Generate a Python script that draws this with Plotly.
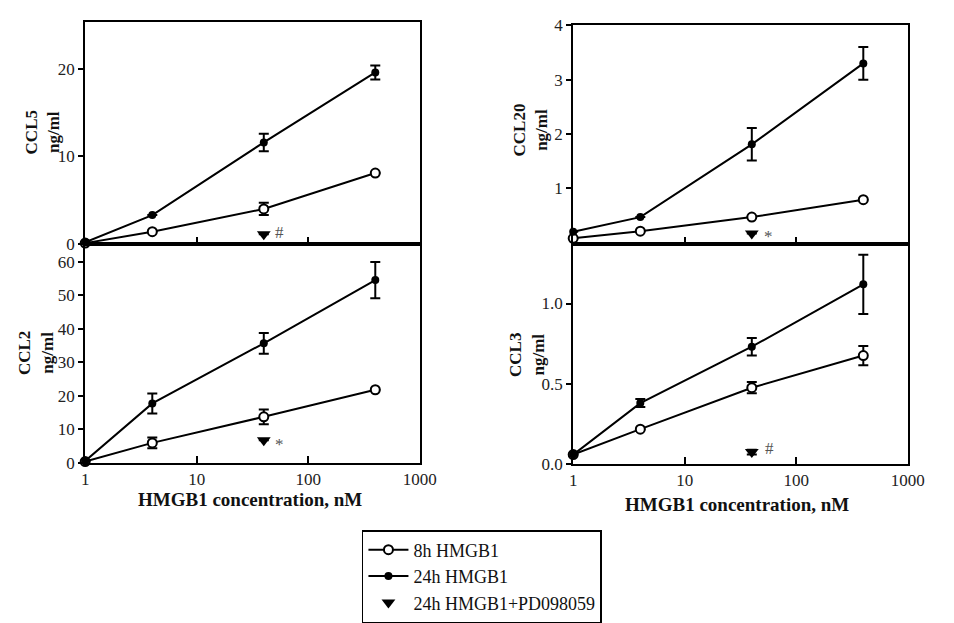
import plotly.graph_objects as go

W, H = 954, 623

conc = [1, 4, 40, 400]
pd_conc = [40]

# CCL5
ccl5_8h = [0.1, 1.4, 4.0, 8.1]
ccl5_8h_err = [None, None, 0.7, None]
ccl5_24h = [0.2, 3.3, 11.6, 19.6]
ccl5_24h_err = [None, None, 1.0, 0.8]
ccl5_pd = [1.1]
ccl5_pd_err = [None]
ccl5_mark = "#"

# CCL20
ccl20_8h = [0.08, 0.21, 0.47, 0.79]
ccl20_8h_err = [None, None, None, None]
ccl20_24h = [0.2, 0.47, 1.81, 3.3]
ccl20_24h_err = [None, None, 0.3, 0.3]
ccl20_pd = [0.17]
ccl20_pd_err = [None]
ccl20_mark = "*"

# CCL2
ccl2_8h = [0.3, 5.9, 13.7, 21.8]
ccl2_8h_err = [None, 1.6, 2.2, None]
ccl2_24h = [0.5, 17.7, 35.7, 54.6]
ccl2_24h_err = [None, 3.0, 3.1, 5.4]
ccl2_pd = [6.7]
ccl2_pd_err = [None]
ccl2_mark = "*"

# CCL3
ccl3_8h = [0.056, 0.215, 0.474, 0.675]
ccl3_8h_err = [None, None, 0.035, 0.06]
ccl3_24h = [0.056, 0.378, 0.73, 1.12]
ccl3_24h_err = [None, 0.025, 0.055, 0.185]
ccl3_pd = [0.072]
ccl3_pd_err = [0.015]
ccl3_mark = "#"

x_tickvals = [1, 10, 100, 1000]
x_ticktext = ["1", "10", "100", "1000"]
ccl5_ticks = [0, 10, 20]
ccl20_ticks = [1, 2, 3, 4]
ccl2_ticks = [0, 10, 20, 30, 40, 50, 60]
ccl3_ticks = [0.0, 0.5, 1.0]

series_names = ["8h HMGB1", "24h HMGB1", "24h HMGB1+PD098059"]
xtitle = "HMGB1 concentration, nM"

FONT = "Liberation Serif, Times New Roman, serif"

def px_x(p):
    return p / W

def px_y(p):
    return 1 - p / H

panels = [
    dict(name="CCL5", ax="", d8=ccl5_8h, e8=ccl5_8h_err, d24=ccl5_24h, e24=ccl5_24h_err,
         pd=ccl5_pd, epd=ccl5_pd_err, mark=ccl5_mark, xd=(83, 425), yd=(244, 14),
         yr=[0, 25.3], yt=ccl5_ticks, fmt="", tx=39, ty=128, bottom=False, mshift=(16, 2)),
    dict(name="CCL20", ax="2", d8=ccl20_8h, e8=ccl20_8h_err, d24=ccl20_24h, e24=ccl20_24h_err,
         pd=ccl20_pd, epd=ccl20_pd_err, mark=ccl20_mark, xd=(582, 924), yd=(244, 17),
         yr=[-0.025, 4], yt=ccl20_ticks, fmt="", tx=538, ty=126, bottom=False, mshift=(17, -3)),
    dict(name="CCL2", ax="3", d8=ccl2_8h, e8=ccl2_8h_err, d24=ccl2_24h, e24=ccl2_24h_err,
         pd=ccl2_pd, epd=ccl2_pd_err, mark=ccl2_mark, xd=(83, 425), yd=(471, 244),
         yr=[0, 65.4], yt=ccl2_ticks, fmt="", tx=33, ty=357, bottom=True, mshift=(16, -4)),
    dict(name="CCL3", ax="4", d8=ccl3_8h, e8=ccl3_8h_err, d24=ccl3_24h, e24=ccl3_24h_err,
         pd=ccl3_pd, epd=ccl3_pd_err, mark=ccl3_mark, xd=(582, 924), yd=(472, 244),
         yr=[0, 1.372], yt=ccl3_ticks, fmt=".1f", tx=535, ty=359, bottom=True, mshift=(18, 4)),
]

fig = go.Figure()
layout = dict(
    width=W, height=H,
    margin=dict(l=0, r=0, t=0, b=0),
    paper_bgcolor="white", plot_bgcolor="white",
    font=dict(family=FONT, size=17, color="#222"),
    showlegend=True,
    legend=dict(x=px_x(366), y=px_y(541), xanchor="left", yanchor="top",
                bordercolor="black", borderwidth=1.5, bgcolor="white",
                font=dict(family=FONT, size=18, color="#111"),
                itemwidth=40, tracegroupgap=2, traceorder="normal"),
    annotations=[],
)

for i, p in enumerate(panels):
    xa = "x" + p["ax"]
    ya = "y" + p["ax"]
    first = i == 0
    fig.add_trace(go.Scatter(
        x=conc, y=p["d8"], xaxis=xa, yaxis=ya, mode="lines+markers",
        name=series_names[0], legendgroup="g8", showlegend=first,
        line=dict(color="black", width=2),
        marker=dict(symbol="circle", size=9, color="white", line=dict(color="black", width=2)),
        error_y=dict(type="data", array=p["e8"], symmetric=True, color="black", thickness=2, width=5),
        cliponaxis=False,
    ))
    fig.add_trace(go.Scatter(
        x=conc, y=p["d24"], xaxis=xa, yaxis=ya, mode="lines+markers",
        name=series_names[1], legendgroup="g24", showlegend=first,
        line=dict(color="black", width=2),
        marker=dict(symbol="circle", size=8, color="black"),
        error_y=dict(type="data", array=p["e24"], symmetric=True, color="black", thickness=2, width=5),
        cliponaxis=False,
    ))
    fig.add_trace(go.Scatter(
        x=pd_conc, y=p["pd"], xaxis=xa, yaxis=ya, mode="markers",
        name=series_names[2], legendgroup="gpd", showlegend=first,
        marker=dict(symbol="triangle-down", size=12, color="black"),
        error_y=dict(type="data", array=p["epd"], symmetric=True, color="black", thickness=2, width=5),
        cliponaxis=False,
    ))
    key = p["ax"]
    layout["xaxis" + key] = dict(
        type="log", range=[0, 3], domain=[px_x(p["xd"][0]), px_x(p["xd"][1])],
        anchor=ya, showline=True, mirror=True, linecolor="black", linewidth=2,
        showgrid=False, zeroline=False, ticks="inside", ticklen=7, tickwidth=2, tickcolor="black",
        tickvals=x_tickvals if p["bottom"] else [10, 100],
        ticktext=x_ticktext if p["bottom"] else ["", ""],
        showticklabels=p["bottom"],
        tickfont=dict(family=FONT, size=17, color="#222"),
    )
    layout["yaxis" + key] = dict(
        range=p["yr"], domain=[px_y(p["yd"][0]), px_y(p["yd"][1])],
        anchor=xa, showline=True, mirror=True, linecolor="black", linewidth=2,
        showgrid=False, zeroline=False, ticks="outside", ticklen=5, tickwidth=2, tickcolor="black",
        tickvals=p["yt"], tickformat=p["fmt"],
        tickfont=dict(family=FONT, size=17, color="#222"),
    )
    layout["annotations"].append(dict(
        text="<b>%s<br>ng/ml</b>" % p["name"], xref="paper", yref="paper",
        x=px_x(p["tx"]), y=px_y(p["ty"]), xanchor="center", yanchor="middle",
        textangle=-90, showarrow=False, font=dict(family=FONT, size=17, color="#111"),
    ))
    layout["annotations"].append(dict(
        text=p["mark"], xref=xa, yref=ya, x=1.60206, y=p["pd"][0],
        xshift=p["mshift"][0], yshift=p["mshift"][1], showarrow=False,
        font=dict(family=FONT, size=17, color="#555"),
    ))

for tx, ty in [(252, 509), (750, 515)]:
    layout["annotations"].append(dict(
        text="<b>%s</b>" % xtitle, xref="paper", yref="paper",
        x=px_x(tx), y=px_y(ty), xanchor="center", yanchor="middle",
        showarrow=False, font=dict(family=FONT, size=19, color="#111"),
    ))

fig.update_layout(**layout)
fig.write_html("out.html")
